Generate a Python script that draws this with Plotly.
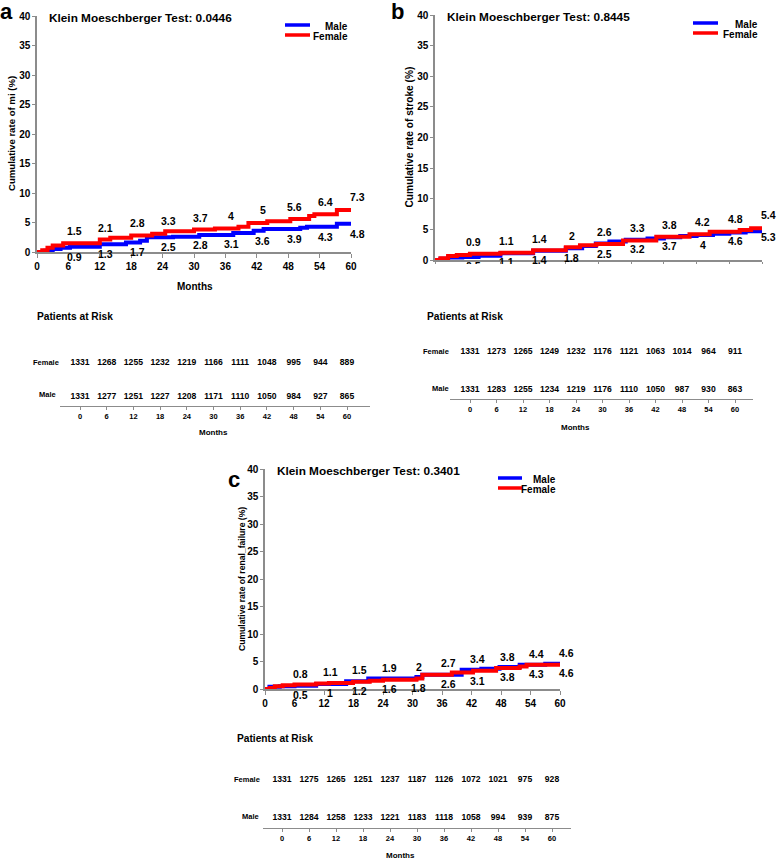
import plotly.graph_objects as go

W, H = 778, 860
FONT = "Liberation Sans"
GREY = "#8c8c8c"

def px(x):
    return x / W

def py(y):
    return 1 - y / H

# ---------------- DATA ----------------
tick_months = [0, 6, 12, 18, 24, 30, 36, 42, 48, 54, 60]
label_months = [6, 12, 18, 24, 30, 36, 42, 48, 54, 60]

# Panel a: myocardial infarction
a_female_t = [0, 1, 2, 3, 5, 8, 12, 14, 18, 22, 24.5, 30, 34, 38.5, 40.4, 44, 48.4, 52, 53, 57.3, 60]
a_female_v = [0, 0.3, 0.7, 1.1, 1.5, 1.5, 2.1, 2.4, 2.8, 3.1, 3.5, 3.8, 4.0, 4.3, 4.9, 5.2, 5.6, 6.1, 6.4, 7.1, 7.3]
a_male_t = [0, 1.5, 3, 4.5, 6.3, 12, 17, 19.7, 21, 26, 31, 37.5, 41.4, 43.3, 50.3, 51.6, 57.3, 60]
a_male_v = [0, 0.2, 0.5, 0.7, 0.9, 1.3, 1.6, 1.9, 2.5, 2.6, 2.9, 3.2, 3.6, 3.9, 4.1, 4.3, 4.8, 4.8]
a_labels_hi = [1.5, 2.1, 2.8, 3.3, 3.7, 4, 5, 5.6, 6.4, 7.3]
a_labels_lo = [0.9, 1.3, 1.7, 2.5, 2.8, 3.1, 3.6, 3.9, 4.3, 4.8]
a_risk_female = [1331, 1268, 1255, 1232, 1219, 1166, 1111, 1048, 995, 944, 889]
a_risk_male = [1331, 1277, 1251, 1227, 1208, 1171, 1110, 1050, 984, 927, 865]

# Panel b: stroke
b_female_t = [0, 1, 2.4, 4, 6.4, 12, 18, 24, 26.6, 29.6, 34.5, 40.6, 46.7, 50.4, 55.9, 58, 60]
b_female_v = [0, 0.3, 0.65, 0.8, 1.0, 1.2, 1.6, 2.1, 2.4, 2.6, 3.2, 3.8, 4.2, 4.6, 4.9, 5.2, 5.4]
b_male_t = [0, 1, 2.4, 5, 8, 12, 18, 24, 27, 29.5, 32, 35, 39, 42, 45, 48, 51, 54, 57, 60]
b_male_v = [0, 0.2, 0.4, 0.5, 0.7, 1.1, 1.5, 1.9, 2.3, 2.7, 3.0, 3.3, 3.5, 3.7, 3.9, 4.1, 4.3, 4.5, 4.7, 5.3]
b_labels_hi = [0.9, 1.1, 1.4, 2, 2.6, 3.3, 3.8, 4.2, 4.8, 5.4]
b_labels_lo = [0.5, 1.1, 1.4, 1.8, 2.5, 3.2, 3.7, 4, 4.6, 5.3]
b_risk_female = [1331, 1273, 1265, 1249, 1232, 1176, 1121, 1063, 1014, 964, 911]
b_risk_male = [1331, 1283, 1255, 1234, 1219, 1176, 1110, 1050, 987, 930, 863]

# Panel c: renal failure
c_female_t = [0, 1, 2, 3.6, 6, 10.4, 13, 17.9, 21.3, 24, 30.8, 32, 38, 42.3, 47, 51.8, 53.2, 60]
c_female_v = [0, 0.2, 0.5, 0.7, 0.8, 1.0, 1.1, 1.3, 1.5, 1.7, 1.9, 2.6, 3.0, 3.3, 3.8, 4.1, 4.4, 4.6]
c_male_t = [0, 0.9, 3, 6, 10.4, 16.5, 21, 30.8, 32, 40, 44, 47.7, 51.8, 57, 60]
c_male_v = [0, 0.4, 0.5, 0.6, 0.9, 1.4, 1.9, 2.2, 2.6, 3.5, 3.7, 4.0, 4.4, 4.6, 4.8]
c_labels_hi = [0.8, 1.1, 1.5, 1.9, 2, 2.7, 3.4, 3.8, 4.4, 4.6]
c_labels_lo = [0.5, 1, 1.2, 1.6, 1.8, 2.6, 3.1, 3.8, 4.3, 4.6]
c_risk_female = [1331, 1275, 1265, 1251, 1237, 1187, 1126, 1072, 1021, 975, 928]
c_risk_male = [1331, 1284, 1258, 1233, 1221, 1183, 1118, 1058, 994, 939, 875]

# ---------------- FIGURE ----------------
fig = go.Figure()
annotations = []
shapes = []
covers = []

panels = [
    dict(key="a", n=1, plot=(37, 351, 16, 252), table=(60, 370, 406, 80, 347, 363, 397),
         femt=a_female_t, femv=a_female_v, malet=a_male_t, malev=a_male_v,
         hi=a_labels_hi, lo=a_labels_lo, rf=a_risk_female, rm=a_risk_male,
         test="Klein Moeschberger Test: 0.0446", ytitle="Cumulative rate of mi (%)", ytsize=9.6,
         ytitle_x=11, showxlabels=True, cut=False, legend=(285, 310, 25, 350),
         letter=(6, 11), months_plot=(195, 286), months_table=(213, 432),
         par=(35, 316), fem_lab_x=46, male_lab_x=47, shift=(4, 2)),
    dict(key="b", n=3, plot=(435, 762, 15, 260), table=(450, 753, 399, 470, 735, 352, 390),
         femt=b_female_t, femv=b_female_v, malet=b_male_t, malev=b_male_v,
         hi=b_labels_hi, lo=b_labels_lo, rf=b_risk_female, rm=b_risk_male,
         test="Klein Moeschberger Test: 0.8445", ytitle="Cumulative rate of stroke (%)", ytsize=10.2,
         ytitle_x=409, showxlabels=False, cut=True, legend=(693, 718, 23, 760),
         letter=(398, 11), months_plot=None, months_table=(575, 427),
         par=(425, 316), fem_lab_x=436, male_lab_x=440, shift=(4, 1)),
    dict(key="c", n=5, plot=(265, 560, 469, 689), table=(263, 571, 828, 282, 552, 780, 818),
         femt=c_female_t, femv=c_female_v, malet=c_male_t, malev=c_male_v,
         hi=c_labels_hi, lo=c_labels_lo, rf=c_risk_female, rm=c_risk_male,
         test="Klein Moeschberger Test: 0.3401", ytitle="Cumulative rate of renal_failure (%)", ytsize=8.6,
         ytitle_x=242, showxlabels=True, cut=False, legend=(498, 522, 478, 558),
         letter=(234, 479), months_plot=None, months_table=(400, 855),
         par=(235, 738), fem_lab_x=247, male_lab_x=250, shift=(3, 1)),
]

bold = dict(family=FONT, weight="bold", color="black")


def ann(x, y, text, size, xanchor="center", yanchor="middle", angle=0):
    annotations.append(dict(x=px(x), y=py(y), xref="paper", yref="paper", xanchor=xanchor,
                            yanchor=yanchor, text=text, showarrow=False, textangle=angle,
                            font=dict(size=size, **bold)))


for p in panels:
    n = p["n"]
    xa, ya = f"x{n}", f"y{n}"
    xa2, ya2 = f"x{n+1}", f"y{n+1}"
    x0, x1, y0, y1 = p["plot"]

    # curves (male first, female on top)
    fig.add_trace(go.Scatter(x=p["malet"], y=p["malev"], mode="lines", line=dict(color="#0000ff", width=4, shape="hv"),
                             xaxis=xa, yaxis=ya, showlegend=False, hoverinfo="skip"))
    fig.add_trace(go.Scatter(x=p["femt"], y=p["femv"], mode="lines", line=dict(color="#ff0000", width=4, shape="hv"),
                             xaxis=xa, yaxis=ya, showlegend=False, hoverinfo="skip"))
    # value labels (data-referenced annotations, nudged right of each 6-month mark)
    up, dn = p["shift"]
    for m, v in zip(label_months, p["hi"]):
        annotations.append(dict(x=m, y=v, xref=xa, yref=ya, text=f"{v:g}", showarrow=False,
                                xanchor="center", yanchor="bottom", xshift=6, yshift=up,
                                font=dict(size=10.5, **bold)))
    for m, v in zip(label_months, p["lo"]):
        annotations.append(dict(x=m, y=v, xref=xa, yref=ya, text=f"{v:g}", showarrow=False,
                                xanchor="center", yanchor="top", xshift=6, yshift=-dn,
                                font=dict(size=10.5, **bold)))

    fig.layout[f"xaxis{n}"] = dict(domain=[px(x0), px(x1)], range=[0, 60], anchor=ya, automargin=False,
                                   tickvals=tick_months, showticklabels=p["showxlabels"],
                                   ticks="outside", ticklen=4, tickcolor=GREY, showline=True,
                                   linecolor=GREY, linewidth=1.5, showgrid=False, zeroline=False,
                                   tickfont=dict(size=10, **bold))
    fig.layout[f"yaxis{n}"] = dict(domain=[py(y1), py(y0)], range=[0, 40], anchor=xa, automargin=False,
                                   tickvals=[0, 5, 10, 15, 20, 25, 30, 35, 40],
                                   ticks="outside", ticklen=3, tickcolor=GREY, showline=True,
                                   linecolor=GREY, linewidth=1.5, showgrid=False, zeroline=False,
                                   tickfont=dict(size=10, **bold))

    ann(x0 + 10, y0 + 2, p["test"], 11.8, xanchor="left")
    ann(p["ytitle_x"], (y0 + y1) / 2, p["ytitle"], p["ytsize"], angle=-90)
    ann(p["letter"][0], p["letter"][1], p["key"], 22)
    # legend
    lx0, lx1, ly, ltx = p["legend"]
    for i, (nm, col) in enumerate([("Male", "#0000ff"), ("Female", "#ff0000")]):
        yy = ly + 10 * i
        shapes.append(dict(type="line", xref="paper", yref="paper", x0=px(lx0), x1=px(lx1),
                           y0=py(yy), y1=py(yy), line=dict(color=col, width=3.5)))
        ann(ltx, yy + 1.5, nm, 10, xanchor="right")
    if p["months_plot"]:
        ann(p["months_plot"][0], p["months_plot"][1], "Months", 10)

    if p["cut"]:
        # the reference panel is cropped just below its x axis: white strip over that band
        top = y1 + 4
        covers.append(dict(x=px(x0 - 40), y=py(top), xref="paper", yref="paper", xanchor="left",
                           yanchor="top", text=" ", showarrow=False, width=W - (x0 - 40),
                           height=300 - top, bgcolor="white", borderpad=0, borderwidth=0))

    # ---- risk table ----
    tx0, tx1, taxis_y, t0px, t60px, fem_y, male_y = p["table"]
    ppm = (t60px - t0px) / 60.0
    rng = [(tx0 - t0px) / ppm, (tx1 - t0px) / ppm]
    ppu = male_y - fem_y
    yr = [-(taxis_y - male_y) / ppu, (male_y - (fem_y - 20)) / ppu]
    fig.add_trace(go.Scatter(x=tick_months, y=[1] * 11, mode="text", text=[str(v) for v in p["rf"]],
                             textfont=dict(size=8.6, **bold), xaxis=xa2, yaxis=ya2,
                             showlegend=False, hoverinfo="skip", cliponaxis=False))
    fig.add_trace(go.Scatter(x=tick_months, y=[0] * 11, mode="text", text=[str(v) for v in p["rm"]],
                             textfont=dict(size=8.6, **bold), xaxis=xa2, yaxis=ya2,
                             showlegend=False, hoverinfo="skip", cliponaxis=False))
    fig.layout[f"xaxis{n+1}"] = dict(domain=[px(tx0), px(tx1)], range=rng, anchor=ya2, automargin=False,
                                     tickvals=tick_months, ticks="outside", ticklen=3, tickcolor=GREY,
                                     showline=True, linecolor=GREY, linewidth=1.2, showgrid=False,
                                     zeroline=False, tickfont=dict(size=7.5, **bold))
    fig.layout[f"yaxis{n+1}"] = dict(domain=[py(taxis_y), py(fem_y - 20)], range=yr, anchor=xa2,
                                     automargin=False, visible=False, showgrid=False, zeroline=False)
    ann(p["par"][0], p["par"][1], "Patients at Risk", 10.2, xanchor="left")
    ann(p["fem_lab_x"], fem_y - 1, "Female", 7.5)
    ann(p["male_lab_x"], male_y - 2, "Male", 7.5)
    ann(p["months_table"][0], p["months_table"][1], "Months", 8)

fig.update_layout(width=W, height=H, margin=dict(l=0, r=0, t=0, b=0, pad=0, autoexpand=False),
                  plot_bgcolor="white", paper_bgcolor="white", annotations=annotations + covers,
                  shapes=shapes, showlegend=False, font=dict(family=FONT, color="black"))
fig.write_html("out.html", config={"displayModeBar": False},
               post_script="document.body.style.margin='0px'; document.body.style.padding='0px';")
